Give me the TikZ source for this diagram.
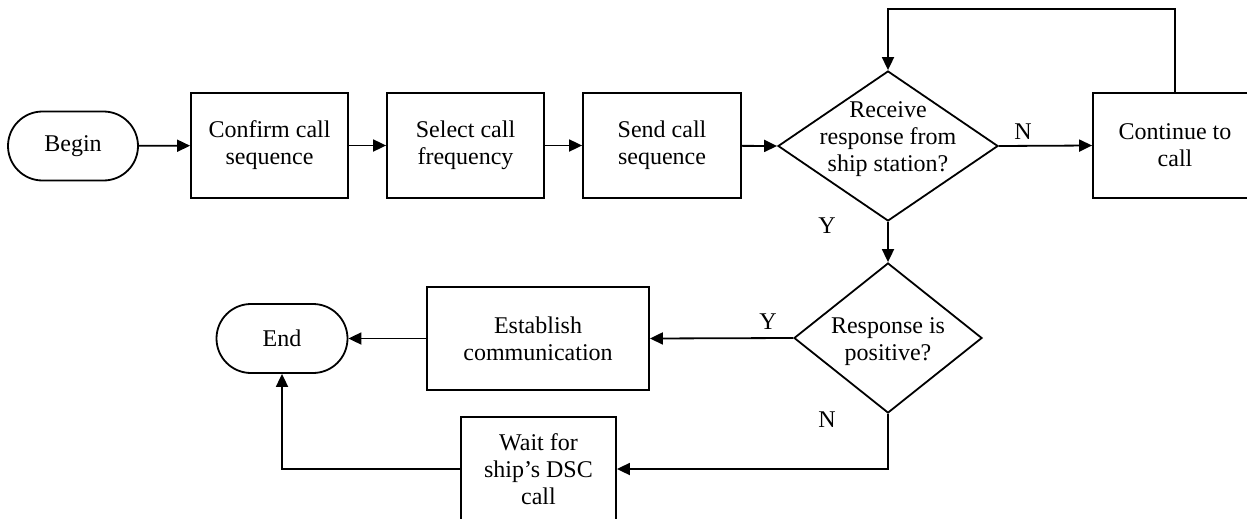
\documentclass[tikz,border=0pt]{standalone}
\usepackage{fontspec}
\setmainfont{Liberation Serif}
\usetikzlibrary{arrows.meta,shapes.geometric,shapes.misc}
\begin{document}
\begin{tikzpicture}[x=1pt,y=-1pt,
  every node/.style={font=\fontsize{24}{27}\selectfont, inner sep=0pt},
  box/.style={draw, line width=1.8pt, rectangle, align=center},
  term/.style={draw, line width=1.8pt, rounded rectangle, minimum width=130pt, minimum height=69pt},
  dia/.style={draw, line width=1.8pt, diamond},
  lbl/.style={align=center},
  conn/.style={line width=1.8pt, -{Triangle[length=13pt,width=12pt]}},
  yn/.style={}]
\useasboundingbox (0,0) rectangle (1247,519);
\clip (0,0) rectangle (1247,519);
\node[term] (begin) at (73,146) {Begin};
\node[box, minimum width=157pt, minimum height=105pt] (confirm) at (269.5,145.5) {Confirm call\\sequence};
\node[box, minimum width=157pt, minimum height=105pt] (select) at (465.5,145.5) {Select call\\frequency};
\node[box, minimum width=158pt, minimum height=105pt] (send) at (662,145.5) {Send call\\sequence};
\node[dia, minimum width=220pt, minimum height=150pt] (d1) at (888,146) {};
\node[lbl] (d1t) at (888,139) {Receive\\response from\\ship station?};
\node[box, minimum width=164pt, minimum height=105pt] (cont) at (1175,145.5) {Continue to\\call};
\node[dia, minimum width=188pt, minimum height=150pt] (d2) at (888,338) {};
\node[lbl] (d2t) at (888,342) {Response is\\positive?};
\node[box, minimum width=222pt, minimum height=103pt] (est) at (538,338.5) {Establish\\communication};
\node[term, minimum width=131pt] (end) at (282,338.5) {End};
\node[box, minimum width=155pt, minimum height=104pt] (wait) at (538.5,469) {Wait for\\ship's DSC\\call};
\coordinate (top) at (888,9);
\draw[conn] (begin) -- (confirm);
\draw[conn] (confirm) -- (select);
\draw[conn] (select) -- (send);
\draw[conn] (send) -- (d1.west);
\draw[conn] (d1.east) -- (cont.west);
\draw[conn] (cont.north) |- (top) -- (d1.north);
\draw[conn] (d1.south) -- (d2.north);
\draw[conn] (d2.west) -- (est.east);
\draw[conn] (est.west) -- (end.east);
\draw[conn] (d2.south) |- (wait.east);
\draw[conn] (wait.west) -| (end.south);
\node[yn] (n1) at (1023,132) {N};
\node[yn] (y1) at (827,226) {Y};
\node[yn] (y2) at (768,322) {Y};
\node[yn] (n2) at (827,420) {N};
\end{tikzpicture}
\end{document}
